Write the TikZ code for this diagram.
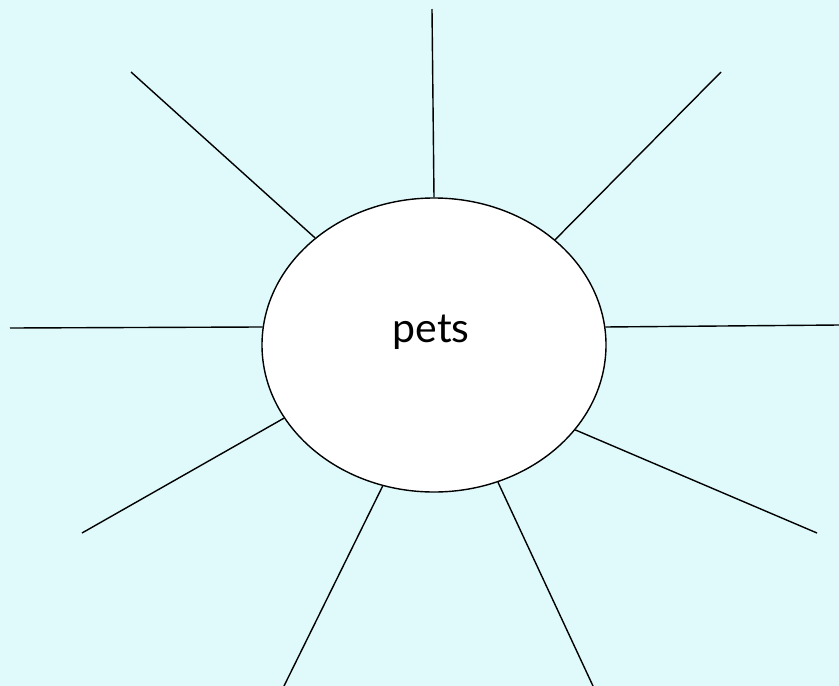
\documentclass[tikz,border=0pt]{standalone}
\usepackage{fontspec}
\setmainfont{Lato}
\usetikzlibrary{shapes.geometric}
\definecolor{bgcyan}{RGB}{224,250,252}
\begin{document}
\begin{tikzpicture}[x=1pt,y=-1pt,
  spoke/.style={draw=black,line width=1.4pt},
  hub/.style={draw=black,line width=1.4pt,fill=white,ellipse,minimum width=344pt,minimum height=294pt,inner sep=0pt},
  hubtext/.style={font=\fontsize{41}{48}\selectfont,inner sep=0pt}]
\fill[bgcyan] (0,0) rectangle (839,686);
\useasboundingbox (0,0) rectangle (839,686);
\node[hub] (c) at (434,345) {};
\node[hubtext] (t) at (431,332) {pets};
\coordinate (e1) at (432,9);
\coordinate (e2) at (131,72);
\coordinate (e3) at (721,72);
\coordinate (e4) at (10,328);
\coordinate (e5) at (839,325);
\coordinate (e6) at (82,533);
\coordinate (e7) at (817,533);
\coordinate (e8) at (284,686);
\coordinate (e9) at (593,686);
\draw[spoke] (e1) -- (c.90.6);
\draw[spoke] (e2) -- (c.138.3);
\draw[spoke] (e3) -- (c.41.5);
\draw[spoke] (e4) -- (c.174.4);
\draw[spoke] (e5) -- (c.6.6);
\draw[spoke] (e6) -- (c.206.6);
\draw[spoke] (e7) -- (c.329.1);
\draw[spoke] (e8) -- (c.250);
\draw[spoke] (e9) -- (c.295.5);
\end{tikzpicture}
\end{document}
